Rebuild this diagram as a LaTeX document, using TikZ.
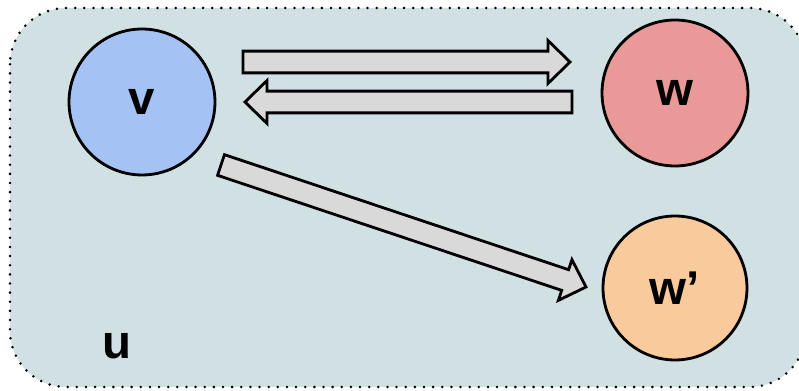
\documentclass[tikz,border=0pt]{standalone}
\usepackage{fontspec}
\setmainfont{Liberation Sans}
\usetikzlibrary{calc}

\definecolor{boxbg}{HTML}{D0E0E3}
\definecolor{vfill}{HTML}{A4C2F4}
\definecolor{wfill}{HTML}{EA9999}
\definecolor{xfill}{HTML}{F9CB9C}
\definecolor{arrowfill}{HTML}{D9D9D9}

% fat block arrow from #1 to #2
\newcommand{\fatarrow}[2]{%
  \coordinate (head) at ($(#2)!12.5pt!(#1)$);
  \draw[fat] ($(#1)!6.2pt!90:(#2)$) -- ($(head)!6.2pt!90:(#2)$)
    -- ($(head)!12.2pt!90:(#2)$) -- (#2)
    -- ($(head)!12.2pt!-90:(#2)$) -- ($(head)!6.2pt!-90:(#2)$)
    -- ($(#1)!6.2pt!-90:(#2)$) -- cycle;
}

\begin{document}
\begin{tikzpicture}[x=0.02cm, y=-0.02cm,
  bigfont/.style={font=\fontsize{27}{30}\selectfont\bfseries},
  vertex/.style={circle, draw, line width=1.6pt, minimum size=2.92cm,
                 inner sep=0pt, bigfont},
  fat/.style={draw, line width=1.6pt, fill=arrowfill, line join=miter}]
  \useasboundingbox (0,0) rectangle (799,391);

  % Outer box u
  \draw[fill=boxbg, line width=1.6pt, line cap=round,
        dash pattern=on 0pt off 5.2pt, rounded corners=32pt]
        (10,8) rectangle (806,387);
  \node[bigfont] (u) at (117,346) {u};

  % Vertices
  \node[vertex, fill=vfill] (v) at (142,102) {v};
  \node[vertex, fill=wfill] (w) at (675,93) {w};
  \node[vertex, fill=xfill, minimum size=2.88cm] (x) at (675,288) {w'};

  % Arrow ends
  \coordinate (vw-a) at ($(v.center)+(101,-40)$);
  \coordinate (vw-b) at ($(w.center)+(-105,-31)$);
  \coordinate (wv-a) at ($(w.center)+(-103,9)$);
  \coordinate (wv-b) at ($(v.center)+(103,0)$);
  \coordinate (vx-a) at ($(v.center)+(79,63)$);
  \coordinate (vx-b) at ($(x.center)+(-89,-1)$);

  % Arrows
  \fatarrow{vw-a}{vw-b}
  \fatarrow{wv-a}{wv-b}
  \fatarrow{vx-a}{vx-b}
\end{tikzpicture}
\end{document}
